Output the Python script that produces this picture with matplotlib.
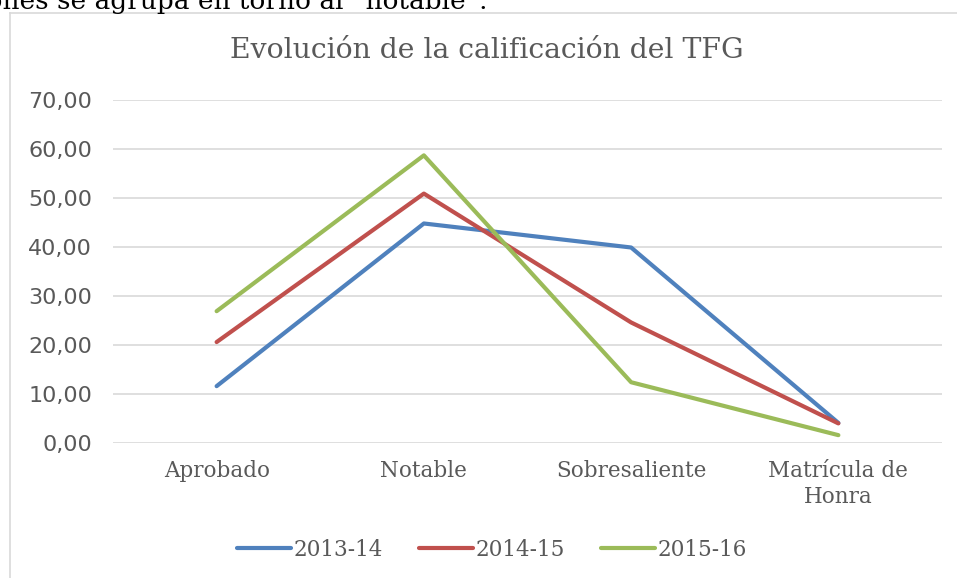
import matplotlib
matplotlib.use("Agg")
import matplotlib.pyplot as plt
from matplotlib.lines import Line2D

categories = ["Aprobado", "Notable", "Sobresaliente", "Matrícula de\nHonra"]
series_names = ["2013-14", "2014-15", "2015-16"]
s2013 = [11.6, 44.8, 39.9, 4.1]
s2014 = [20.6, 50.9, 24.6, 4.0]
s2015 = [26.9, 58.7, 12.4, 1.6]
yticks = [0, 10, 20, 30, 40, 50, 60, 70]
colors = ["#4F81BD", "#C0504D", "#9BBB59"]

W, H = 957, 578
fig = plt.figure(figsize=(W / 100, H / 100), dpi=100)
fig.patch.set_facecolor("white")

def fx(px):
    return px / W

def fy(py):
    return 1 - py / H

# surrounding document text (cut off at the top of the picture)
fig.text(fx(-22), fy(9), "iones se agrupa en torno al “notable”.", fontsize=19,
         family="DejaVu Serif", color="black", ha="left", va="baseline")

# chart frame
fig.add_artist(Line2D([fx(10), fx(10)], [fy(13), fy(H + 5)], color="#D9D9D9", lw=1.2,
                      transform=fig.transFigure))
fig.add_artist(Line2D([fx(10), fx(W + 5)], [fy(13), fy(13)], color="#D9D9D9", lw=1.2,
                      transform=fig.transFigure))

left, right = fx(113), fx(942)
bottom, top = fy(443), fy(100)
ax = fig.add_axes([left, bottom, right - left, top - bottom])

x = list(range(len(categories)))
for vals, name, c in zip([s2013, s2014, s2015], series_names, colors):
    ax.plot(x, vals, color=c, lw=3.0, label=name, solid_capstyle="round",
            solid_joinstyle="round", zorder=3)

ax.set_xlim(-0.5, len(categories) - 0.5)
ax.set_ylim(0, 70)
ax.set_yticks(yticks)
ax.set_yticklabels([f"{v:.2f}".replace(".", ",") for v in yticks],
                   fontsize=16, color="#595959", family="DejaVu Sans")
ax.set_xticks(x)
ax.set_xticklabels(categories, fontsize=15.5, color="#595959", family="DejaVu Serif",
                   linespacing=1.25)
ax.tick_params(axis="both", length=0)
ax.tick_params(axis="y", pad=15)
ax.tick_params(axis="x", pad=12)
ax.grid(axis="y", color="#D9D9D9", lw=1.2, zorder=0)
for s in ax.spines.values():
    s.set_visible(False)

fig.text(fx(487), fy(50), "Evolución de la calificación del TFG", fontsize=20.3,
         family="DejaVu Serif", color="#595959", ha="center", va="center")

leg = ax.legend(loc="center", bbox_to_anchor=(fx(492), fy(550)),
                bbox_transform=fig.transFigure, ncol=3, frameon=False,
                handlelength=2.5, handletextpad=0.1, columnspacing=1.7,
                prop={"family": "DejaVu Serif", "size": 15.5})
for t in leg.get_texts():
    t.set_color("#595959")
for l in leg.get_lines():
    l.set_linewidth(3.0)
    l.set_solid_capstyle("round")

fig.savefig("out.png", dpi=100, facecolor="white")
